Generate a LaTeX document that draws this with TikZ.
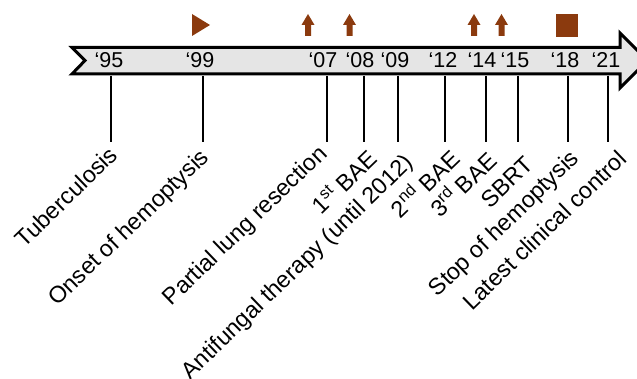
\documentclass[tikz,border=0pt]{standalone}
\usepackage{fontspec}
\setmainfont{Liberation Sans}
\usetikzlibrary{positioning,calc}
\definecolor{H}{RGB}{139,58,14}
\tikzset{%
  band/.style = {
    line width = 3pt,
    line join = miter,
    fill = #1,
    draw = black,
  },
  band/.default = {black!10},
  year/.style = {
    anchor = base,
    inner sep = 0pt,
    font = \fontsize{21.5}{22}\selectfont,
  },
  event/.style = {
    anchor = base east,
    rotate = 44,
    inner sep = 0pt,
    font = \fontsize{23.3}{24}\selectfont,
  },
  tick/.style = {
    line width = 2.6pt,
  },
  sign/.style = {
    fill = H,
    draw = none,
  },
}
\newcommand{\upsign}[1]{%
  \fill[sign] (#1-6.5,25) -- (#1,14) -- (#1+6.5,25) -- (#1+3,25)
    -- (#1+3,36) -- (#1-3,36) -- (#1-3,25) -- cycle;}

\begin{document}
\begin{tikzpicture}[x=1pt, y=-1pt]
  \useasboundingbox (0,0) rectangle (637,379);
  % time band
  \draw[band] (72,47.5) -- (620,47.5) -- (620,33) -- (647.5,60.5)
    -- (620,88) -- (620,74) -- (72,74) -- (85,60.5) -- cycle;
  % years
  \node[year] (y95) at (109,68) {‘95};
  \node[year] (y99) at (200,68) {‘99};
  \node[year] (y07) at (323,68) {‘07};
  \node[year] (y08) at (360,68) {‘08};
  \node[year] (y09) at (395,68) {‘09};
  \node[year] (y12) at (443,68) {‘12};
  \node[year] (y14) at (482,68) {‘14};
  \node[year] (y15) at (515,68) {‘15};
  \node[year] (y18) at (565,68) {‘18};
  \node[year] (y21) at (606,68) {‘21};
  % ticks
  \coordinate (a95) at (111,76);  \coordinate (b95) at (111,142);
  \coordinate (a99) at (203,76);  \coordinate (b99) at (203,142);
  \coordinate (a07) at (327,76);  \coordinate (b07) at (327,142);
  \coordinate (a08) at (364,76);  \coordinate (b08) at (364,142);
  \coordinate (a09) at (398,76);  \coordinate (b09) at (398,142);
  \coordinate (a12) at (445,76);  \coordinate (b12) at (445,142);
  \coordinate (a14) at (486,76);  \coordinate (b14) at (486,142);
  \coordinate (a15) at (518,76);  \coordinate (b15) at (518,142);
  \coordinate (a18) at (568,76);  \coordinate (b18) at (568,142);
  \coordinate (a21) at (608,76);  \coordinate (b21) at (608,142);
  \foreach \t in {95,99,07,08,09,12,14,15,18,21}
    \draw[tick] (a\t) -- (b\t);
  % events
  \node[event] (e95) at ($(b95)+(8,15)$) {Tuberculosis};
  \node[event] (e99) at ($(b99)+(7.5,17)$) {Onset of hemoptysis};
  \node[event] (e07) at ($(b07)+(1.5,13)$) {Partial lung resection};
  \node[event] (e08) at ($(b08)+(15,18.5)$) {1\textsuperscript{st} BAE};
  \node[event] (e09) at ($(b09)+(16.5,22)$) {Antifungal therapy (until 2012)};
  \node[event] (e12) at ($(b12)+(17,18.5)$) {2\textsuperscript{nd} BAE};
  \node[event] (e14) at ($(b14)+(12.5,20.5)$) {3\textsuperscript{rd} BAE};
  \node[event] (e15) at ($(b15)+(17,24)$) {SBRT};
  \node[event] (e18) at ($(b18)+(12.5,18)$) {Stop of hemoptysis};
  \node[event] (e21) at ($(b21)+(20,19)$) {Latest clinical control};
  % signs
  \fill[sign] (192,14) -- (210,25) -- (192,36) -- cycle;
  \upsign{308}
  \upsign{349.5}
  \upsign{474}
  \upsign{501.5}
  \fill[sign] (556,14) rectangle (578,37);
\end{tikzpicture}
\end{document}
